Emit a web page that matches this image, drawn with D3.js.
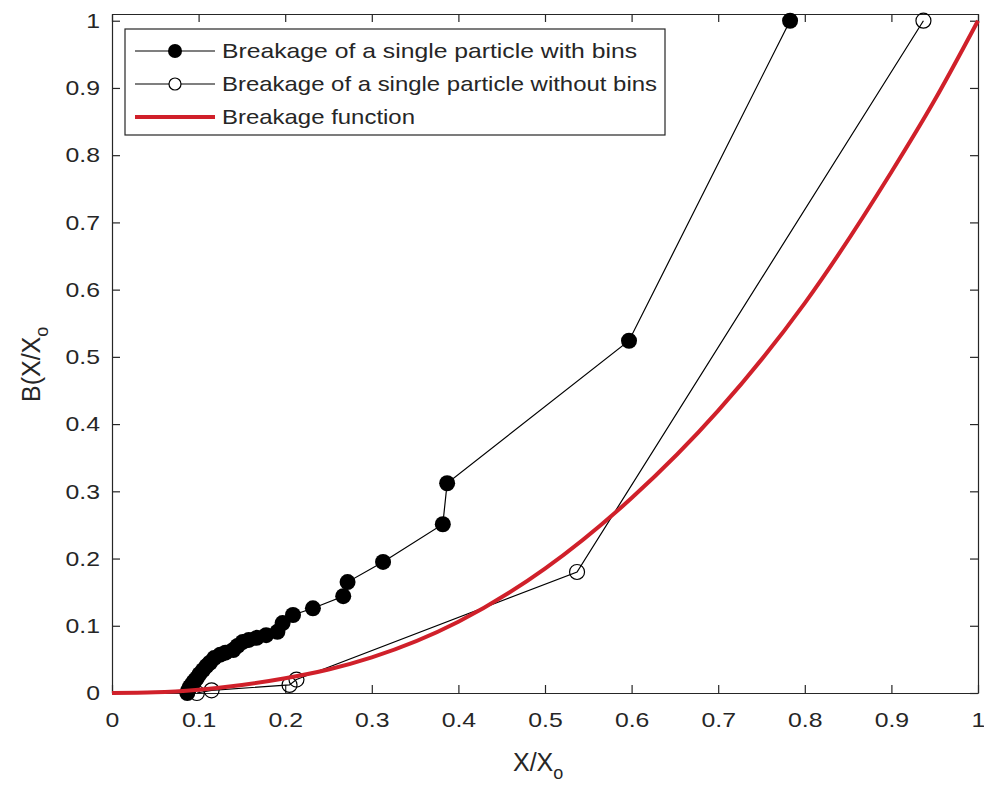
<!DOCTYPE html>
<html>
<head>
<meta charset="utf-8">
<script src="https://cdn.jsdelivr.net/npm/d3@7"></script>
<style>
  body { margin: 0; background: #fff; }
</style>
</head>
<body>
<div id="chart"></div>
<script>
// Tick values
const xTicks = [0, 0.1, 0.2, 0.3, 0.4, 0.5, 0.6, 0.7, 0.8, 0.9, 1];
const yTicks = [0, 0.1, 0.2, 0.3, 0.4, 0.5, 0.6, 0.7, 0.8, 0.9, 1];

// Breakage of a single particle with bins (filled markers)
const binsX = [0.087, 0.088, 0.090, 0.092, 0.094, 0.096, 0.098, 0.101, 0.105, 0.109, 0.113, 0.118, 0.125, 0.131, 0.140, 0.145, 0.151, 0.158, 0.167, 0.178, 0.191, 0.197, 0.209, 0.232, 0.267, 0.272, 0.313, 0.382, 0.387, 0.597, 0.783];
const binsY = [0.000, 0.004, 0.009, 0.012, 0.016, 0.019, 0.022, 0.028, 0.034, 0.040, 0.045, 0.052, 0.057, 0.060, 0.064, 0.070, 0.076, 0.079, 0.082, 0.086, 0.091, 0.104, 0.116, 0.126, 0.144, 0.165, 0.195, 0.251, 0.312, 0.524, 1.000];

// Breakage of a single particle without bins (open markers)
const noBinsX = [0.098, 0.115, 0.205, 0.213, 0.537, 0.937];
const noBinsY = [0.000, 0.004, 0.012, 0.020, 0.180, 1.000];

// Breakage function (red curve)
const funcX = [0, 0.05, 0.1, 0.15, 0.2, 0.25, 0.3, 0.4, 0.5, 0.6, 0.7, 0.8, 0.9, 0.95, 1];
const funcY = [0, 0.001, 0.005, 0.012, 0.022, 0.035, 0.053, 0.106, 0.185, 0.290, 0.420, 0.580, 0.775, 0.882, 1];

const legendLabels = [
  'Breakage of a single particle with bins',
  'Breakage of a single particle without bins',
  'Breakage function'
];

const width = 984;
const height = 787;
const marginTop = 14;
const marginRight = 6;
const marginBottom = 94;
const marginLeft = 112;
const chartWidth = width - marginLeft - marginRight;
const chartHeight = height - marginTop - marginBottom;

const axisColor = '#262626';
const redColor = '#d0202a';
const font = "'Liberation Sans', Arial, Helvetica, sans-serif";

// stretch text horizontally to match the wide rendering of the reference
function stretch(sel, factor) {
  sel.each(function() {
    const w = this.getComputedTextLength();
    if (w > 0) {
      d3.select(this)
        .attr('textLength', w * factor)
        .attr('lengthAdjust', 'spacingAndGlyphs');
    }
  });
}

const svg = d3.select('#chart')
  .append('svg')
  .attr('width', width)
  .attr('height', height)
  .attr('viewBox', [0, 0, width, height])
  .style('display', 'block');

svg.append('rect')
  .attr('width', width)
  .attr('height', height)
  .attr('fill', '#fff');

const g = svg.append('g')
  .attr('transform', `translate(${marginLeft},${marginTop})`);

const x = d3.scaleLinear()
  .domain([0, 1])
  .range([0, chartWidth]);

const y = d3.scaleLinear()
  .domain([0, 1.01])
  .range([chartHeight, 0]);

// Axes (box style, inward ticks)
const xAxis = g.append('g')
  .attr('transform', `translate(0,${chartHeight})`)
  .call(d3.axisBottom(x)
    .tickValues(xTicks)
    .tickSizeInner(-8)
    .tickSizeOuter(0)
    .tickPadding(19)
    .tickFormat(d => String(d)));

const yAxis = g.append('g')
  .call(d3.axisLeft(y)
    .tickValues(yTicks)
    .tickSizeInner(-8)
    .tickSizeOuter(0)
    .tickPadding(12)
    .tickFormat(d => String(d)));

const xAxisTop = g.append('g')
  .call(d3.axisTop(x)
    .tickValues(xTicks)
    .tickSizeInner(-8)
    .tickSizeOuter(0)
    .tickFormat(''));

const yAxisRight = g.append('g')
  .attr('transform', `translate(${chartWidth},0)`)
  .call(d3.axisRight(y)
    .tickValues(yTicks)
    .tickSizeInner(-8)
    .tickSizeOuter(0)
    .tickFormat(''));

[xAxis, yAxis, xAxisTop, yAxisRight].forEach(a => {
  a.selectAll('path, line')
    .attr('stroke', axisColor)
    .attr('stroke-width', 1.2);
  a.selectAll('text')
    .style('font-size', '21px')
    .style('font-family', font)
    .attr('fill', axisColor);
});

stretch(xAxis.selectAll('text'), 1.18);
stretch(yAxis.selectAll('text'), 1.18);

// Axis labels
const xLabel = svg.append('text')
  .attr('x', 513)
  .attr('y', 771)
  .style('font-size', '25px')
  .style('font-family', font)
  .attr('fill', axisColor);
xLabel.append('tspan').text('X/X');
xLabel.append('tspan')
  .attr('dy', 8)
  .style('font-size', '18px')
  .text('o');

const yLabel = svg.append('text')
  .attr('transform', 'translate(40,402) rotate(-90)')
  .style('font-size', '25px')
  .style('font-family', font)
  .attr('fill', axisColor);
yLabel.append('tspan').text('B(X/X');
yLabel.append('tspan')
  .attr('dy', 8)
  .style('font-size', '18px')
  .text('o');

// Series
const line = d3.line()
  .x(d => x(d[0]))
  .y(d => y(d[1]));

const binsData = d3.zip(binsX, binsY);
const noBinsData = d3.zip(noBinsX, noBinsY);
const funcData = d3.zip(funcX, funcY);

g.append('path')
  .datum(binsData)
  .attr('d', line)
  .attr('fill', 'none')
  .attr('stroke', '#000')
  .attr('stroke-width', 1.2);

g.selectAll('.dot-bins')
  .data(binsData)
  .join('circle')
  .attr('class', 'dot-bins')
  .attr('cx', d => x(d[0]))
  .attr('cy', d => y(d[1]))
  .attr('r', 8)
  .attr('fill', '#000');

g.append('path')
  .datum(noBinsData)
  .attr('d', line)
  .attr('fill', 'none')
  .attr('stroke', '#000')
  .attr('stroke-width', 1.2);

g.selectAll('.dot-nobins')
  .data(noBinsData)
  .join('circle')
  .attr('class', 'dot-nobins')
  .attr('cx', d => x(d[0]))
  .attr('cy', d => y(d[1]))
  .attr('r', 7.5)
  .attr('fill', 'none')
  .attr('stroke', '#000')
  .attr('stroke-width', 1.2);

g.append('path')
  .datum(funcData)
  .attr('d', line.curve(d3.curveMonotoneX))
  .attr('fill', 'none')
  .attr('stroke', redColor)
  .attr('stroke-width', 4);

// Legend
const legend = svg.append('g')
  .attr('transform', 'translate(125,29)');

legend.append('rect')
  .attr('width', 540)
  .attr('height', 106)
  .attr('fill', '#fff')
  .attr('stroke', axisColor)
  .attr('stroke-width', 1.2);

const rowY = [22, 55, 88];
const textWidths = [415, 435, 193];

legendLabels.forEach((label, i) => {
  const row = legend.append('g')
    .attr('transform', `translate(0,${rowY[i]})`);

  row.append('line')
    .attr('x1', 10)
    .attr('x2', 90)
    .attr('stroke', i === 2 ? redColor : '#000')
    .attr('stroke-width', i === 2 ? 4 : 1.2);

  if (i === 0) {
    row.append('circle')
      .attr('cx', 50)
      .attr('r', 7)
      .attr('fill', '#000');
  } else if (i === 1) {
    row.append('circle')
      .attr('cx', 50)
      .attr('r', 6)
      .attr('fill', '#fff')
      .attr('stroke', '#000')
      .attr('stroke-width', 1.2);
  }

  row.append('text')
    .attr('x', 97)
    .attr('y', 7)
    .style('font-size', '21px')
    .style('font-family', font)
    .attr('fill', axisColor)
    .attr('textLength', textWidths[i])
    .attr('lengthAdjust', 'spacingAndGlyphs')
    .text(label);
});
</script>
</body>
</html>
